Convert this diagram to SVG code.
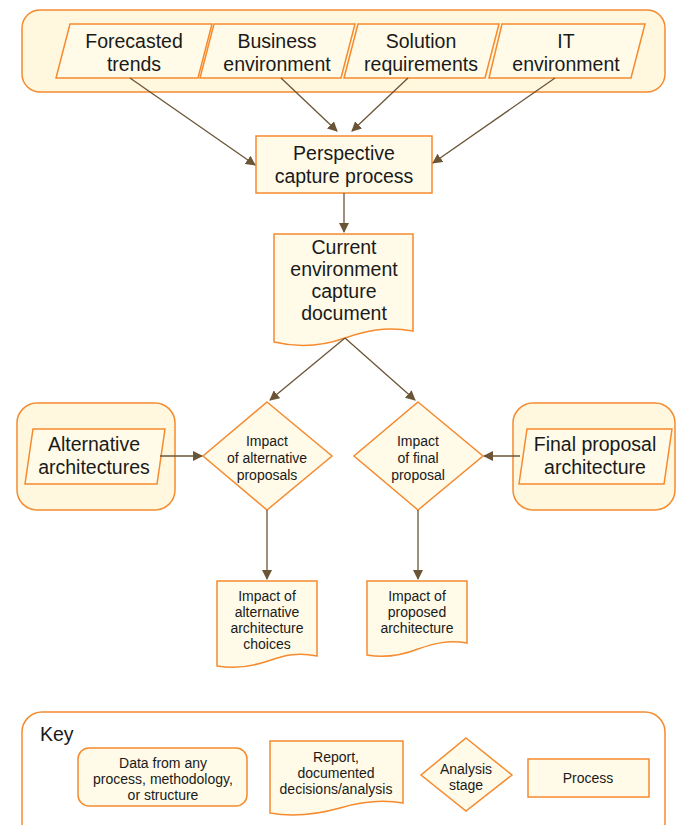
<svg xmlns="http://www.w3.org/2000/svg" width="683" height="825" viewBox="0 0 683 825">
<defs>
<marker id="ah" viewBox="0 0 10 10" refX="9" refY="5" markerWidth="10" markerHeight="10" markerUnits="userSpaceOnUse" orient="auto">
<path d="M0,0 L10,5 L0,10 Z" fill="#6B5537"/>
</marker>
<style>
.shape{fill:#FFFBE8;stroke:#F58A2E;stroke-width:1.5}
.grp{fill:#FFF8DF;stroke:#F58A2E;stroke-width:1.5}
.key{fill:#FFFFFF;stroke:#F58A2E;stroke-width:1.5}
.conn{stroke:#6B5537;stroke-width:1.3;fill:none;marker-end:url(#ah)}
text{font-family:"Liberation Sans","Open Sans",sans-serif;fill:#1A1A1A;text-anchor:middle}
.big{font-size:19.5px}
.sm{font-size:14px}
</style>
</defs>

<g id="top-group">
<rect class="grp" x="22" y="10" width="643" height="82" rx="18"/>
</g>
<g id="forecasted-trends">
<polygon class="shape" points="70,24 212,24 198,78 56,78"/>
<text class="big" x="134" y="48">Forecasted</text>
<text class="big" x="134" y="71">trends</text>
</g>
<g id="business-environment">
<polygon class="shape" points="214,24 355,24 341,78 200,78"/>
<text class="big" x="277" y="48">Business</text>
<text class="big" x="277" y="71">environment</text>
</g>
<g id="solution-requirements">
<polygon class="shape" points="358,24 499,24 485,78 344,78"/>
<text class="big" x="421" y="48">Solution</text>
<text class="big" x="421" y="71">requirements</text>
</g>
<g id="it-environment">
<polygon class="shape" points="502,24 645,24 631,78 489,78"/>
<text class="big" x="566" y="48">IT</text>
<text class="big" x="566" y="71">environment</text>
</g>

<g id="perspective-capture">
<rect class="shape" x="256" y="136" width="176" height="57"/>
<text class="big" x="344" y="160">Perspective</text>
<text class="big" x="344" y="183">capture process</text>
</g>

<g id="current-environment-doc">
<path class="shape" d="M274,234 H413 V331 C385,326 365,331 345,338 C320,347 295,347 274,342 Z"/>
<text class="big" x="344" y="254">Current</text>
<text class="big" x="344" y="276">environment</text>
<text class="big" x="344" y="298">capture</text>
<text class="big" x="344" y="320">document</text>
</g>

<g id="alternative-group">
<rect class="grp" x="17" y="403" width="158" height="107" rx="20"/>
<polygon class="shape" points="33,429 165,429 157,484 25,484"/>
<text class="big" x="94" y="451">Alternative</text>
<text class="big" x="94" y="474">architectures</text>
</g>

<g id="final-group">
<rect class="grp" x="513" y="403" width="162" height="107" rx="20"/>
<polygon class="shape" points="527,429 672,429 664,484 519,484"/>
<text class="big" x="595" y="451">Final proposal</text>
<text class="big" x="595" y="474">architecture</text>
</g>

<g id="impact-alternative-diamond">
<polygon class="shape" points="267,402 332,456 267,510 203,456"/>
<text class="sm" x="267" y="446">Impact</text>
<text class="sm" x="267" y="463">of alternative</text>
<text class="sm" x="267" y="480">proposals</text>
</g>

<g id="impact-final-diamond">
<polygon class="shape" points="418,402 483,456 418,510 354,456"/>
<text class="sm" x="418" y="446">Impact</text>
<text class="sm" x="418" y="463">of final</text>
<text class="sm" x="418" y="480">proposal</text>
</g>

<g id="impact-alternative-doc">
<path class="shape" d="M217,581 H317 V656 C298,652 285,655 268,661 C250,667 233,669 217,666 Z"/>
<text class="sm" x="267" y="601">Impact of</text>
<text class="sm" x="267" y="617">alternative</text>
<text class="sm" x="267" y="633">architecture</text>
<text class="sm" x="267" y="649">choices</text>
</g>

<g id="impact-proposed-doc">
<path class="shape" d="M367,581 H467 V643 C448,640 435,643 418,649 C400,656 383,658 367,655 Z"/>
<text class="sm" x="417" y="601">Impact of</text>
<text class="sm" x="417" y="617">proposed</text>
<text class="sm" x="417" y="633">architecture</text>
</g>

<g id="connectors">
<line class="conn" x1="130" y1="78" x2="255" y2="165"/>
<line class="conn" x1="281" y1="78" x2="337" y2="131"/>
<line class="conn" x1="408" y1="78" x2="352" y2="131"/>
<line class="conn" x1="555" y1="78" x2="433" y2="163"/>
<line class="conn" x1="344" y1="193" x2="344" y2="232"/>
<line class="conn" x1="345" y1="338" x2="270" y2="400"/>
<line class="conn" x1="345" y1="338" x2="415" y2="400"/>
<line class="conn" x1="160" y1="456" x2="202" y2="456"/>
<line class="conn" x1="520" y1="456" x2="484" y2="456"/>
<line class="conn" x1="267" y1="510" x2="267" y2="579"/>
<line class="conn" x1="418" y1="510" x2="418" y2="579"/>
</g>

<g id="key">
<rect class="key" x="22" y="712" width="643" height="130" rx="20"/>
<text class="big" x="40" y="741" style="text-anchor:start">Key</text>
<g id="key-data">
<rect class="shape" x="78" y="748" width="169" height="58" rx="11"/>
<text class="sm" x="163" y="768">Data from any</text>
<text class="sm" x="163" y="784">process, methodology,</text>
<text class="sm" x="163" y="800">or structure</text>
</g>
<g id="key-report">
<path class="shape" d="M270,741 H403 V803 C380,799 360,802 340,808 C315,815 292,817 270,813 Z"/>
<text class="sm" x="336" y="762">Report,</text>
<text class="sm" x="336" y="778">documented</text>
<text class="sm" x="336" y="794">decisions/analysis</text>
</g>
<g id="key-analysis">
<polygon class="shape" points="466,738 512,775 466,811 421,775"/>
<text class="sm" x="466" y="774">Analysis</text>
<text class="sm" x="466" y="790">stage</text>
</g>
<g id="key-process">
<rect class="shape" x="528" y="759" width="121" height="38"/>
<text class="sm" x="588" y="783">Process</text>
</g>
</g>
</svg>
